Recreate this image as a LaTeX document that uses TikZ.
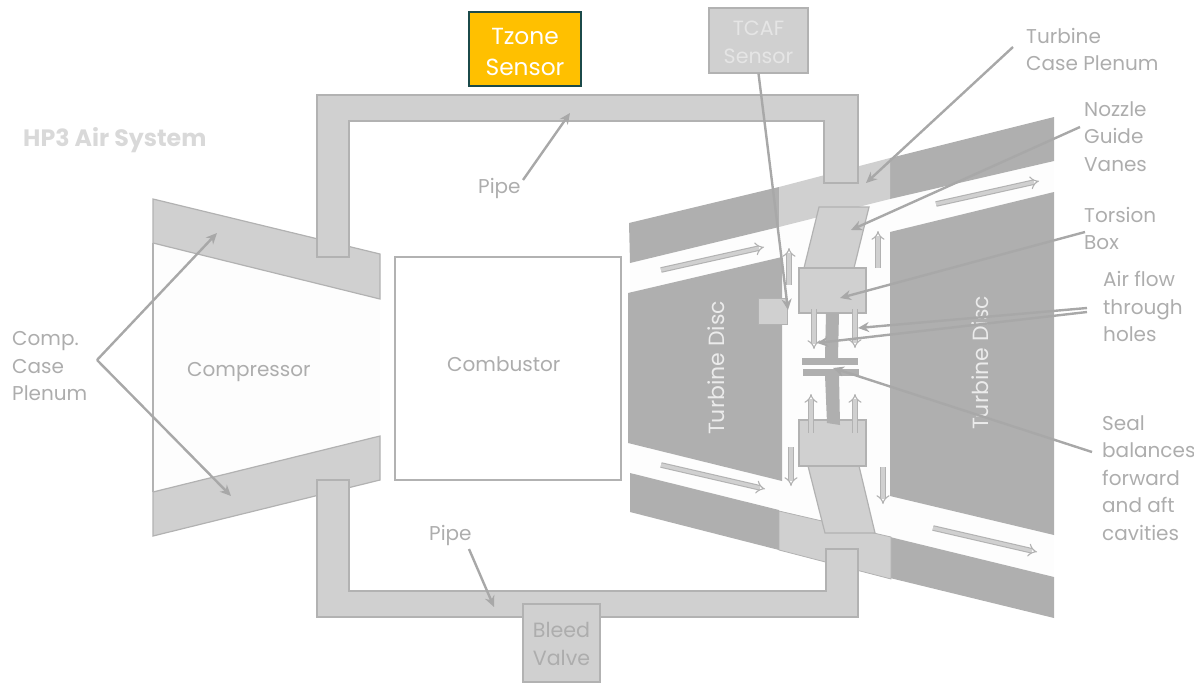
\documentclass[tikz,border=0pt]{standalone}
\usepackage{fontspec}
\setmainfont{Poppins}
\usetikzlibrary{arrows.meta,positioning}
\definecolor{plenumfill}{HTML}{D0D0D0}
\definecolor{edgegray}{HTML}{B2B2B2}
\definecolor{discgray}{HTML}{AFAFAF}
\definecolor{labelgray}{HTML}{ADADAD}
\definecolor{arrowgray}{HTML}{A8A8A8}
\definecolor{voidgray}{HTML}{FDFDFD}
\definecolor{titlegray}{HTML}{D9D9D9}
\definecolor{sensorgold}{HTML}{FFC000}
\definecolor{sensoredge}{HTML}{1B4A4A}
\begin{document}
\begin{tikzpicture}[x=1pt,y=-1pt,>=Stealth,
part/.style={draw=edgegray,fill=plenumfill,line width=1.2pt},
disc/.style={fill=discgray},
cavity/.style={fill=voidgray},
sealbar/.style={fill=discgray},
pointer/.style={->,draw=arrowgray,line width=2.4pt,-{Stealth[length=11pt,width=10pt]}},
flowarrow/.style={draw=edgegray,double=plenumfill,double distance=3.4pt,line width=1.1pt,-{Implies}},
tag/.style={font=\fontsize{20}{27.5}\selectfont,text=labelgray,align=left,inner sep=0pt,anchor=west},
disctag/.style={font=\fontsize{22}{27.5}\selectfont,text=white!92!black,inner sep=0pt,rotate=90},
sensorbox/.style={draw=edgegray,fill=plenumfill,line width=1.2pt,align=center,inner sep=0pt,font=\fontsize{20.6}{27.5}\selectfont}]
\useasboundingbox (0,0) rectangle (1194,683);
\node[font=\fontsize{23.7}{26}\selectfont\bfseries,text=titlegray,inner sep=0pt,anchor=west] (title) at (23,140) {HP3 Air System};
\fill[cavity] (153,243)--(380,299)--(380,436)--(153,492)--cycle; \draw[edgegray,line width=1.2pt] (153,243)--(153,492);
\draw[part] (153,199)--(380,254)--(380,299)--(153,243)--cycle; \draw[part] (153,492)--(380,436)--(380,480)--(153,536)--cycle;
\draw[draw=edgegray,fill=white,line width=1.2pt] (395,257) rectangle (621,480);
\fill[cavity] (630,263)--(779,227)--(890,199)--(1054,161)--(1054,577)--(890,537)--(630,473)--cycle;
\fill[disc] (629,223)--(779,187)--(779,227)--(630,263)--cycle; \fill[disc] (890,158)--(1054,117)--(1054,161)--(890,199)--cycle;
\fill[disc] (628,293)--(782,257)--(782,481)--(628,443)--cycle; \fill[disc] (890,232)--(1054,192)--(1054,535)--(890,496)--cycle;
\fill[disc] (630,473)--(779,510)--(779,550)--(630,512)--cycle; \fill[disc] (890,537)--(1054,577)--(1054,618)--(890,578)--cycle;
\fill[plenumfill] (779,187)--(890,158)--(890,199)--(779,227)--cycle; \draw[part,line width=.8pt] (779,511)--(891,537)--(891,579)--(779,550)--cycle;
\draw[part] (317,95)--(858,95)--(858,183)--(824,183)--(824,121)--(349,121)--(349,257)--(317,257)--cycle;
\draw[part] (317,480)--(349,480)--(349,591)--(826,591)--(826,549)--(858,549)--(858,617)--(317,617)--cycle;
\draw[part] (819,207)--(869,207)--(854,268)--(804,268)--cycle; \draw[part] (808,466)--(859,466)--(875,533)--(825,533)--cycle;
\node[part,minimum width=67pt,minimum height=45pt,inner sep=0pt] (boxtop) at (832.5,290.5) {}; \node[part,minimum width=67pt,minimum height=46pt,inner sep=0pt] (boxbottom) at (832.5,443) {};
\fill[sealbar] (826,313)--(839,313)--(838,358)--(825,358)--cycle; \fill[sealbar] (825,375)--(839,375)--(840,425)--(827,423)--cycle;
\fill[sealbar] (802,358) rectangle (858,365); \fill[sealbar] (803,369) rectangle (859,375.5);
\node[part,minimum width=29pt,minimum height=26pt,inner sep=0pt,line width=.8pt] (sensorblock) at (772.5,311) {};
\draw[flowarrow] (661,270)--(764,247); \draw[flowarrow] (936,204)--(1039,181); \draw[flowarrow] (789,285)--(789,248); \draw[flowarrow] (878,268)--(878,231);
\draw[flowarrow] (814,309)--(814,349); \draw[flowarrow] (855,309)--(855,348); \draw[flowarrow] (811,433)--(811,394); \draw[flowarrow] (855,433)--(855,394);
\draw[flowarrow] (791,447)--(791,486); \draw[flowarrow] (883,467)--(883,504); \draw[flowarrow] (661,465)--(765,489); \draw[flowarrow] (933,528)--(1037,552);
\node[tag] (compressor) at (187,372) {Compressor}; \node[tag] (combustor) at (447,364) {Combustor};
\node[disctag] (discleft) at (716,368) {Turbine Disc}; \node[disctag] (discright) at (980,363) {Turbine Disc};
\node[sensorbox,draw=sensoredge,fill=sensorgold,line width=1.6pt,text=white,minimum width=112pt,minimum height=74pt,font=\fontsize{23.3}{31}\selectfont] (tzone) at (525,49) {\rule{0pt}{22.5pt}Tzone\\Sensor};
\node[sensorbox,minimum width=99pt,minimum height=65pt,text=white!90!black] (tcaf) at (758.5,40.5) {\rule{0pt}{18.5pt}TCAF\\Sensor};
\node[sensorbox,minimum width=77pt,minimum height=78pt,text=labelgray] (bleed) at (561.5,643) {\rule{0pt}{17.5pt}Bleed\\Valve};
\node[tag] (casetag) at (1026,49.5) {Turbine\\Case Plenum}; \node[tag] (vanetag) at (1084,136.5) {Nozzle\\Guide\\Vanes}; \node[tag] (boxtag) at (1084,228.5) {Torsion\\Box};
\node[tag] (holetag) at (1103,306.5) {Air flow\\through\\holes}; \node[tag] (sealtag) at (1102,478) {Seal\\balances\\forward\\and aft\\cavities};
\node[tag] (comptag) at (12,366.5) {Comp.\\Case\\Plenum}; \node[tag] (pipetop) at (478,188) {Pipe}; \node[tag] (pipebottom) at (429,535) {Pipe};
\coordinate (caseend) at (866,183); \coordinate (vaneend) at (851,230); \coordinate (boxend) at (840,298); \coordinate (holeendA) at (858,328); \coordinate (holeendB) at (817,343);
\coordinate (sealend) at (833,368); \coordinate (sensorend) at (788,310); \coordinate (pipetopend) at (570,113); \coordinate (pipebottomend) at (494,607); \coordinate (compendA) at (217,233); \coordinate (compendB) at (231,496);
\coordinate (casestart) at (1013,47); \coordinate (vanestart) at (1080,127); \coordinate (boxstart) at (1085,232); \coordinate (holestartA) at (1087,308); \coordinate (holestartB) at (1087,312); \coordinate (sealstart) at (1092,452);
\coordinate (compstart) at (97,360); \coordinate (pipetopstart) at (523,180); \coordinate (pipebottomstart) at (469,549);
\draw[pointer] (casestart)--(caseend); \draw[pointer] (vanestart)--(vaneend); \draw[pointer] (boxstart)--(boxend); \draw[pointer] (holestartA)--(holeendA); \draw[pointer] (holestartB)--(holeendB); \draw[pointer] (sealstart)--(sealend);
\draw[pointer] (tcaf.south)--(sensorend); \draw[pointer] (compstart)--(compendA); \draw[pointer] (compstart)--(compendB); \draw[pointer] (pipetopstart)--(pipetopend); \draw[pointer] (pipebottomstart)--(pipebottomend);
\end{tikzpicture}
\end{document}
